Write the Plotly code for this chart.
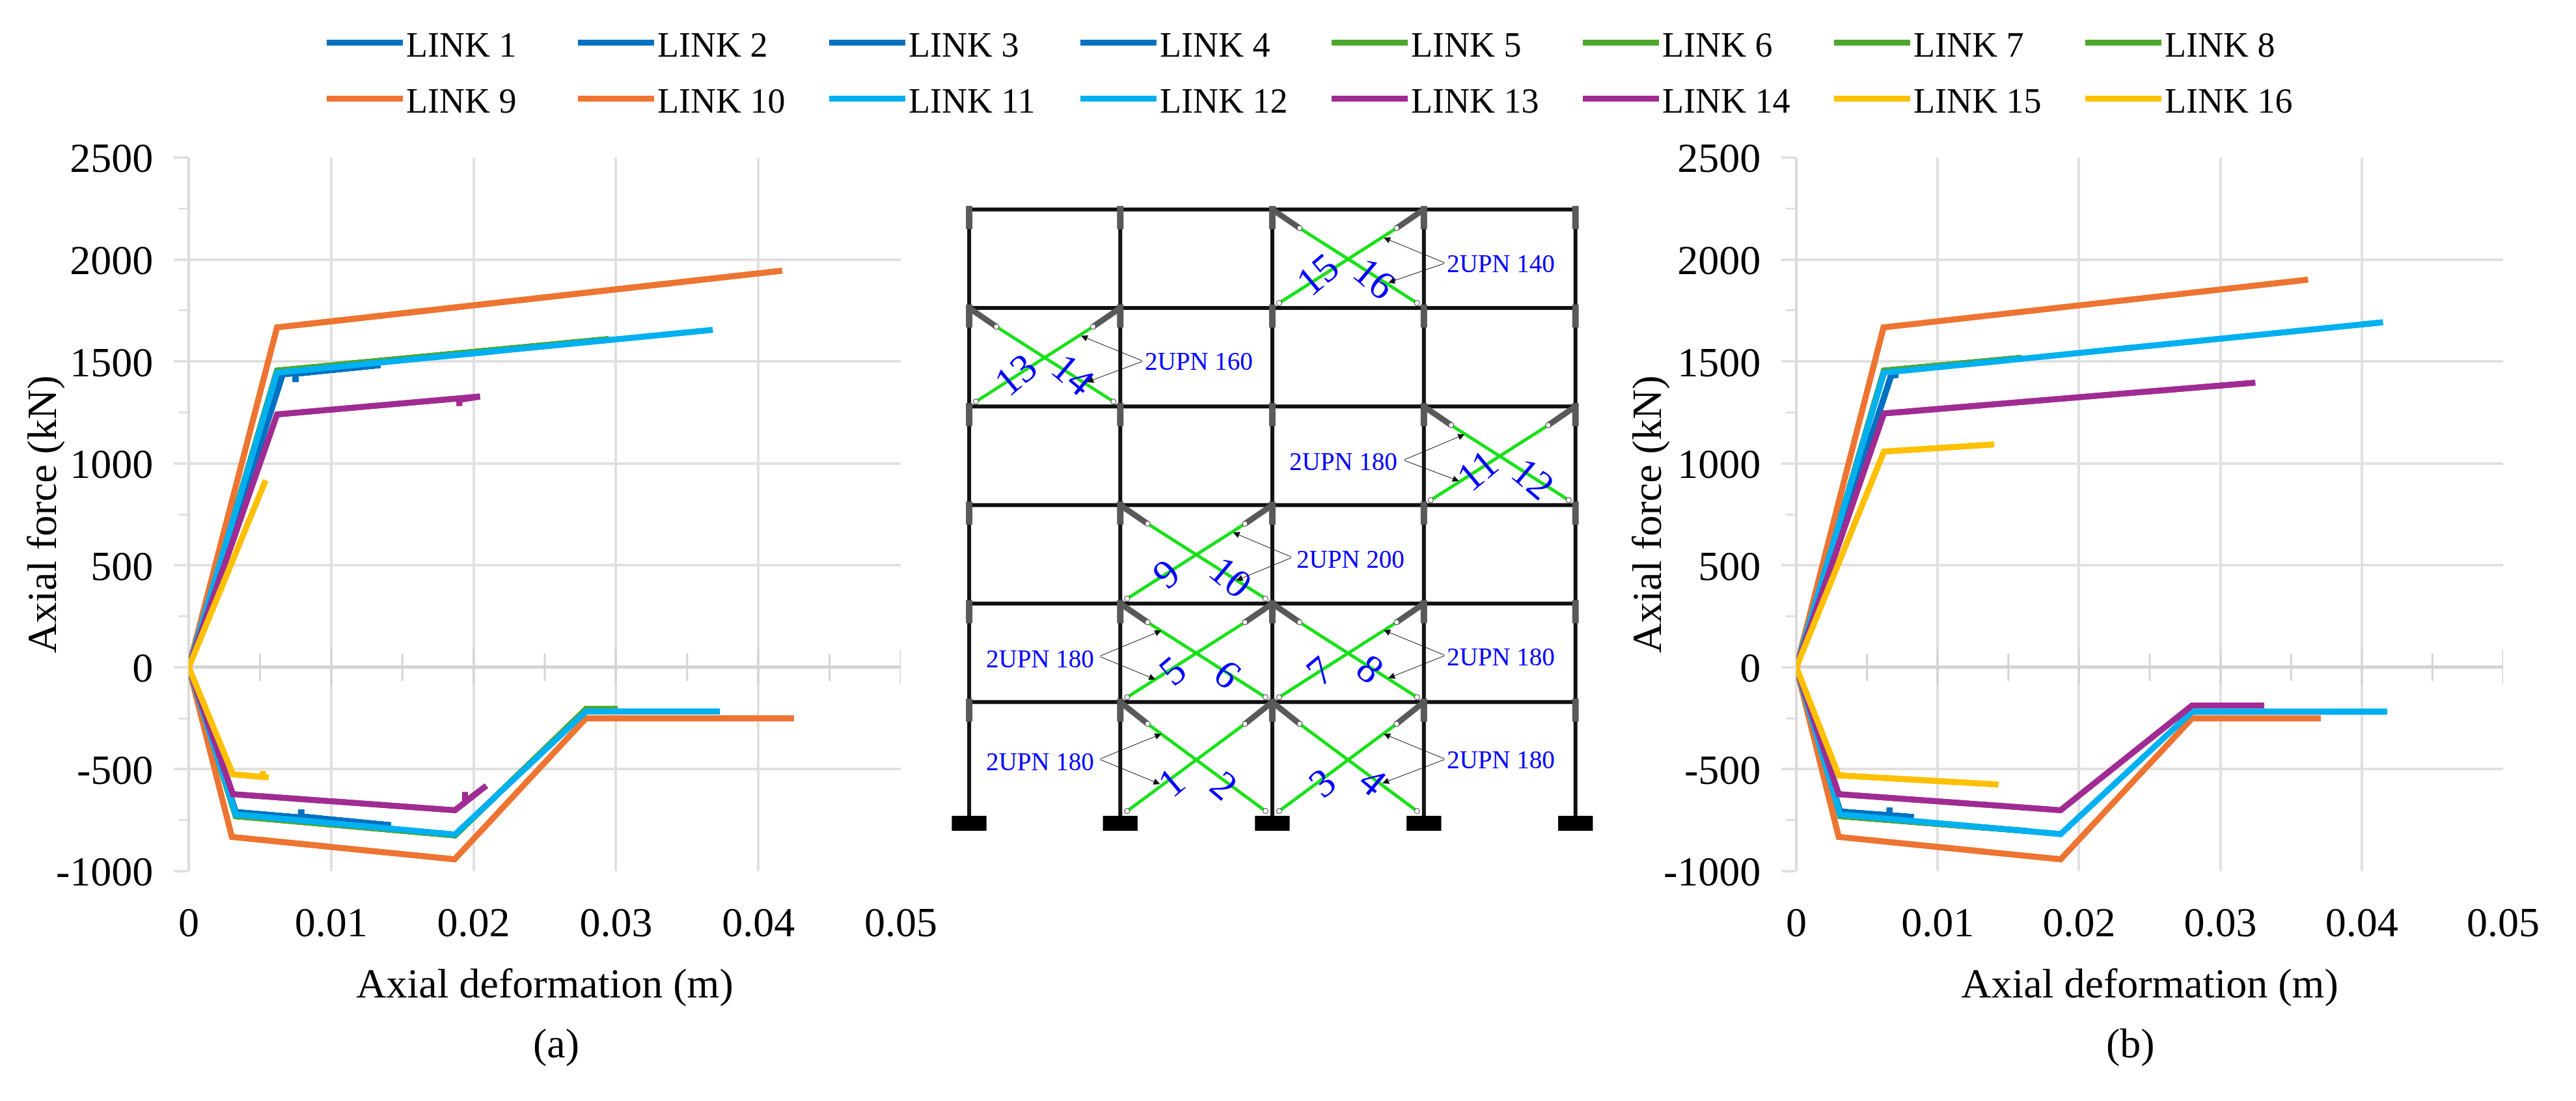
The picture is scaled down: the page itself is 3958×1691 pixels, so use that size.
import plotly.graph_objects as go

W, H = 3958, 1691
FONT = "Liberation Serif"

# ---------- panel (a): axial deformation (m) / axial force (kN) ----------
A_BLUE_X = [0.0079, 0.0079, 0.0142, 0.0033, 0, 0.0066, 0.01345, 0.0075, 0.0075]
A_BLUE_Y = [-697, -732, -775, -710, 0, 1437, 1482, 1440, 1400]
A_GREEN_X = [0.0301, 0.0279, 0.0187, 0.0033, 0, 0.0062, 0.0295]
A_GREEN_Y = [-205, -205, -825, -730, 0, 1455, 1610]
A_ORANGE_X = [0.0425, 0.0279, 0.01867, 0.00303, 0, 0.0062, 0.04167]
A_ORANGE_Y = [-250, -250, -942, -832, 0, 1667, 1945]
A_CYAN_X = [0.0373, 0.0279, 0.0187, 0.0033, 0, 0.0062, 0.0368]
A_CYAN_Y = [-217, -217, -820, -722, 0, 1445, 1655]
A_PURPLE_X = [0.0194, 0.0194, 0.0209, 0.0187, 0.0031, 0, 0.0062, 0.02045, 0.0190, 0.0190]
A_PURPLE_Y = [-612, -660, -581, -701, -622, 0, 1240, 1328, 1312, 1282]
A_YELLOW_X = [0.0052, 0.0052, 0.0056, 0.0031, 0, 0.0054]
A_YELLOW_Y = [-508, -536, -540, -525, 0, 917]

# ---------- panel (b) ----------
B_BLUE_X = [0.0066, 0.0066, 0.0083, 0.0031, 0, 0.0067, 0.0072]
B_BLUE_Y = [-689, -725, -735, -708, 0, 1429, 1435]
B_GREEN_X = [0.01635, 0.0031, 0, 0.0062, 0.01595]
B_GREEN_Y = [-803, -730, 0, 1455, 1518]
B_ORANGE_X = [0.0371, 0.0280, 0.0187, 0.0030, 0, 0.00617, 0.0362]
B_ORANGE_Y = [-250, -250, -942, -832, 0, 1667, 1901]
B_CYAN_X = [0.0418, 0.0280, 0.0187, 0.0031, 0, 0.0062, 0.0415]
B_CYAN_Y = [-218, -218, -818, -722, 0, 1445, 1692]
B_PURPLE_X = [0.0331, 0.0280, 0.0187, 0.0030, 0, 0.0062, 0.03247]
B_PURPLE_Y = [-187, -187, -701, -622, 0, 1245, 1396]
B_YELLOW_X = [0.0143, 0.0030, 0, 0.0062, 0.0140]
B_YELLOW_Y = [-575, -530, 0, 1058, 1093]

BLUE, GREEN, ORANGE, CYAN, PURPLE, YELLOW = "#0070C0", "#4EA72E", "#ED7431", "#00B0F0", "#A02B93", "#FFC000"

LINK_NUMBERS = list(range(1, 17))
LINK_GROUP = ["BLUE"] * 4 + ["GREEN"] * 4 + ["ORANGE"] * 2 + ["CYAN"] * 2 + ["PURPLE"] * 2 + ["YELLOW"] * 2
GROUP_COLOR = dict(BLUE=BLUE, GREEN=GREEN, ORANGE=ORANGE, CYAN=CYAN, PURPLE=PURPLE, YELLOW=YELLOW)
SERIES_A = dict(BLUE=(A_BLUE_X, A_BLUE_Y), GREEN=(A_GREEN_X, A_GREEN_Y), ORANGE=(A_ORANGE_X, A_ORANGE_Y),
                CYAN=(A_CYAN_X, A_CYAN_Y), PURPLE=(A_PURPLE_X, A_PURPLE_Y), YELLOW=(A_YELLOW_X, A_YELLOW_Y))
SERIES_B = dict(BLUE=(B_BLUE_X, B_BLUE_Y), GREEN=(B_GREEN_X, B_GREEN_Y), ORANGE=(B_ORANGE_X, B_ORANGE_Y),
                CYAN=(B_CYAN_X, B_CYAN_Y), PURPLE=(B_PURPLE_X, B_PURPLE_Y), YELLOW=(B_YELLOW_X, B_YELLOW_Y))

X_TICKS = [0, 0.01, 0.02, 0.03, 0.04, 0.05]
X_MINOR = [0.005, 0.015, 0.025, 0.035, 0.045]
X_LABELS = ["0", "0.01", "0.02", "0.03", "0.04", "0.05"]
Y_TICKS = [-1000, -500, 0, 500, 1000, 1500, 2000, 2500]
Y_LABELS = ["-1000", "-500", "0", "500", "1000", "1500", "2000", "2500"]

# ---------- frame elevation (drawing units of the inset axes) ----------
COLUMNS = [127, 458, 791, 1123, 1455]
FLOORS = [107, 333, 559, 785, 1011, 1237]
BASE = 1500
STOREY_LINES = [BASE, 1237, 1011, 785, 559, 333, 107]   # from ground to roof
PANELS = [(1, 0), (2, 0), (1, 1), (2, 1), (1, 2), (3, 3), (0, 4), (2, 5)]  # bay, storey
NUM_TEXT = ["1", "2", "3", "4", "5", "6", "7", "8", "9", "10", "11", "12", "13", "14", "15", "16"]
NUM_X = [570, 685, 900, 1012, 572, 693, 895, 1005, 558, 700, 1240, 1362, 228, 355, 890, 1015]
NUM_Y = [1420, 1428, 1422, 1418, 1165, 1172, 1165, 1160, 942, 950, 705, 725, 485, 485, 255, 265]
NUM_ANGLE = [-40, 40] * 8
SEC_TEXT = ["2UPN 140", "2UPN 160", "2UPN 180", "2UPN 200", "2UPN 180", "2UPN 180", "2UPN 180", "2UPN 180"]
SEC_X = [1292, 630, 947, 962, 282, 1292, 282, 1292]
SEC_Y = [230, 455, 685, 908, 1137, 1132, 1373, 1368]
APEX_X = [1170, 508, 1078, 835, 412, 1170, 412, 1170]
APEX_Y = [230, 455, 682, 905, 1132, 1130, 1368, 1368]
TIP1_X = [1035, 372, 1212, 705, 548, 1035, 548, 1035]
TIP1_Y = [172, 397, 623, 848, 1073, 1072, 1310, 1310]
TIP2_X = [1045, 385, 1200, 712, 535, 1045, 545, 1032]
TIP2_Y = [275, 503, 730, 958, 1185, 1182, 1425, 1423]

fig = go.Figure()

for panel, series, xa, ya in (("a", SERIES_A, "x", "y"), ("b", SERIES_B, "x2", "y2")):
    # tick marks crossing the zero line
    fig.add_trace(go.Scatter(x=X_TICKS[1:], y=[0] * 5, xaxis=xa, yaxis=ya, mode="markers", showlegend=False,
                             hoverinfo="skip",
                             marker=dict(symbol="line-ns", size=38, line=dict(width=3, color="#D4D4D4"))))
    fig.add_trace(go.Scatter(x=X_MINOR, y=[0] * 5, xaxis=xa, yaxis=ya, mode="markers", showlegend=False,
                             hoverinfo="skip",
                             marker=dict(symbol="line-ns", size=30, line=dict(width=3, color="#D4D4D4"))))
    for n, g in zip(LINK_NUMBERS, LINK_GROUP):
        xs, ys = series[g]
        fig.add_trace(go.Scatter(x=xs, y=ys, xaxis=xa, yaxis=ya, mode="lines", name=f"LINK {n}",
                                 line=dict(color=GROUP_COLOR[g], width=9),
                                 showlegend=panel == "a",
                                 legend="legend" if n <= 8 else "legend2"))


def frame_line(xs, ys, color, width):
    fig.add_trace(go.Scatter(x=xs, y=ys, xaxis="x3", yaxis="y3", mode="lines", showlegend=False,
                             hoverinfo="skip", line=dict(color=color, width=width)))


# beams and columns
for fy in FLOORS:
    frame_line([COLUMNS[0], COLUMNS[-1]], [fy, fy], "#111111", 6)
for cx in COLUMNS:
    frame_line([cx, cx], [FLOORS[0], BASE], "#111111", 6)
    for fy in FLOORS:
        frame_line([cx, cx], [fy - 8, fy + 45], "#595959", 10)
    frame_line([cx - 38, cx + 38], [1515, 1515], "#000000", 23)

# braces
hx, hy = [], []
for bay, storey in PANELS:
    L, R = COLUMNS[bay], COLUMNS[bay + 1]
    B, T = STOREY_LINES[storey], STOREY_LINES[storey + 1]
    w, h = R - L, B - T
    f = 0.18
    for sgn, x0, x1 in ((1, L, R), (-1, R, L)):
        xh, yh = x0 + sgn * f * w, T + 0.19 * h
        xe, ye = x1 - sgn * 0.045 * w, B - 0.05 * h
        frame_line([xh, xe], [yh, ye], "#19E019", 5)
        frame_line([x0, xh], [T, yh], "#595959", 9)
        hx += [xh, xe]
        hy += [yh, ye]
fig.add_trace(go.Scatter(x=hx, y=hy, xaxis="x3", yaxis="y3", mode="markers", showlegend=False, hoverinfo="skip",
                         marker=dict(symbol="circle", size=8, color="white", line=dict(width=1, color="#333333"))))

ann = []
for t, x, y, a in zip(NUM_TEXT, NUM_X, NUM_Y, NUM_ANGLE):
    ann.append(dict(text=t, x=x, y=y, xref="x3", yref="y3", showarrow=False, textangle=a,
                    font=dict(family=FONT, size=62, color="#0000FF")))
for t, x, y in zip(SEC_TEXT, SEC_X, SEC_Y):
    ann.append(dict(text=t, x=x, y=y, xref="x3", yref="y3", showarrow=False,
                    font=dict(family=FONT, size=39, color="#0000FF")))
for ax, ay, x1, y1, x2, y2 in zip(APEX_X, APEX_Y, TIP1_X, TIP1_Y, TIP2_X, TIP2_Y):
    for tx, ty in ((x1, y1), (x2, y2)):
        ann.append(dict(text="", x=tx, y=ty, ax=ax, ay=ay, xref="x3", yref="y3", axref="x3", ayref="y3",
                        showarrow=True, arrowhead=2, arrowsize=2, arrowwidth=1, arrowcolor="#111111"))
for t, px in (("(a)", 854), ("(b)", 3273)):
    ann.append(dict(text=t, x=px / W, y=1 - 1602 / H, xref="paper", yref="paper", showarrow=False,
                    xanchor="center", yanchor="middle", font=dict(family=FONT, size=64, color="black")))
for px in (64, 2530):
    ann.append(dict(text="Axial force (kN)", x=px / W, y=1 - 790 / H, xref="paper", yref="paper", showarrow=False,
                    textangle=-90, xanchor="center", yanchor="middle",
                    font=dict(family=FONT, size=64, color="black")))


def x_axis(dom, y_ref):
    return dict(domain=dom, range=[0, 0.05], anchor=y_ref, tickvals=X_TICKS, ticktext=X_LABELS,
                showgrid=True, gridcolor="#E0E0E0", gridwidth=4, zeroline=True, zerolinecolor="#DADADA",
                zerolinewidth=4, ticks="outside", ticklen=22, tickcolor="rgba(0,0,0,0)",
                tickfont=dict(family=FONT, size=64, color="black"),
                title=dict(text="Axial deformation (m)", standoff=36, font=dict(family=FONT, size=64, color="black")))


def y_axis(x_ref):
    return dict(domain=[1 - 1338 / H, 1 - 242 / H], range=[-1000, 2500], anchor=x_ref,
                tickvals=Y_TICKS, ticktext=Y_LABELS,
                showgrid=True, gridcolor="#E0E0E0", gridwidth=4, zeroline=True, zerolinecolor="#D4D4D4",
                zerolinewidth=5, ticks="outside", ticklen=22, tickwidth=4, tickcolor="#E0E0E0",
                ticklabelstandoff=19,
                minor=dict(dtick=250, ticks="outside", ticklen=15, tickwidth=3, tickcolor="#E0E0E0", showgrid=False),
                tickfont=dict(family=FONT, size=64, color="black"))


legend_common = dict(orientation="h", xanchor="left", yanchor="middle", entrywidth=254, entrywidthmode="pixels",
                     itemwidth=117, bgcolor="rgba(0,0,0,0)", font=dict(family=FONT, size=54, color="black"),
                     itemclick=False, itemdoubleclick=False, traceorder="normal")

fig.update_layout(
    width=W, height=H, margin=dict(l=0, r=0, t=0, b=0, autoexpand=False),
    paper_bgcolor="white", plot_bgcolor="white", hovermode=False,
    xaxis=x_axis([290 / W, 1384 / W], "y"), yaxis=y_axis("x"),
    xaxis2=x_axis([2760 / W, 3846 / W], "y2"), yaxis2=y_axis("x2"),
    xaxis3=dict(domain=[1400 / W, 2500 / W], range=[0, 1568], visible=False, anchor="y3"),
    yaxis3=dict(domain=[1 - 1300 / H, 1 - 250 / H], range=[1568, 0], visible=False, anchor="x3"),
    legend=dict(x=497 / W, y=1 - 66 / H, **legend_common),
    legend2=dict(x=497 / W, y=1 - 152 / H, **legend_common),
    annotations=ann,
)

fig.write_html("out.html", config=dict(displayModeBar=False),
               post_script="document.body.style.margin='0';document.body.style.overflow='hidden';")
